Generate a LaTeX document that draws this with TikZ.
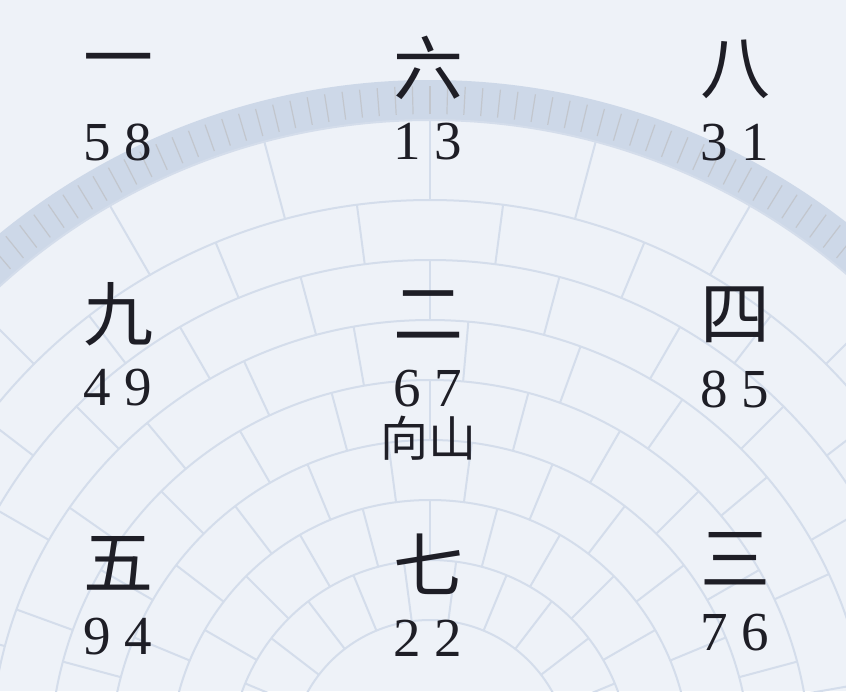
\documentclass[tikz,border=0pt]{standalone}
\usepackage{fontspec}
\newfontfamily\cjk{Noto Sans CJK SC}
\newfontfamily\numfont{Liberation Serif}
\usetikzlibrary{positioning}

\definecolor{paper}{RGB}{238,242,248}
\definecolor{ring}{RGB}{212,221,235}
\definecolor{band}{RGB}{205,216,232}
\definecolor{ink}{RGB}{30,30,38}

\begin{document}
\begin{tikzpicture}[x=1pt,y=-1pt]
  \tikzset{
    star/.style={font=\cjk\fontsize{70}{70}\selectfont, text=ink, inner sep=0pt},
    pair/.style={font=\numfont\fontsize{55}{55}\selectfont, text=ink, inner sep=0pt},
    facing/.style={font=\cjk\fontsize{48}{48}\selectfont, text=ink, inner sep=0pt},
    dial/.style={ring, line width=2pt},
  }
  \useasboundingbox (0,0) rectangle (846,691);
  \fill[paper] (0,0) rectangle (846,691);

  % faint luopan behind the chart
  \begin{scope}
    \clip (0,0) rectangle (846,691);
    \begin{scope}[shift={(430,760)}]
      \fill[band, even odd rule] (0,0) circle[radius=680] (0,0) circle[radius=640];
      \foreach \a in {0,1.5,...,358.5}
        \draw[ring!60!gray!80, line width=1.2pt] (\a:646) -- (\a:674);
      \foreach \r in {640,560,500,440,380,320,260,200,140}
        \draw[dial] (0,0) circle[radius=\r];
      \foreach \r/\R/\o in {560/640/0, 500/560/7.5, 440/500/0, 380/440/5,
                            320/380/0, 260/320/7.5, 200/260/0, 140/200/7.5}
        \foreach \a in {0,15,...,345}
          \draw[dial] ({\a+\o}:\r) -- ({\a+\o}:\R);
    \end{scope}
  \end{scope}

  % the nine palaces: star, then mountain/facing pair
  \foreach \k/\x/\y/\ch/\num in {1/118/68/一/5 8, 2/428/68/六/1 3, 3/735/69/八/3 1,
                                  4/118/314/九/4 9, 5/428/315/二/6 7, 6/735/315/四/8 5,
                                  7/118/563/五/9 4, 8/428/564/七/2 2, 9/735/559/三/7 6}
  {
    \node[star] (s\k) at (\x,\y) {\ch};
    \node[pair] (p\k) at (\x,\y+74) {\num};
  }

  \node[facing, below=8pt of p5] (dir) {向山};
\end{tikzpicture}
\end{document}
